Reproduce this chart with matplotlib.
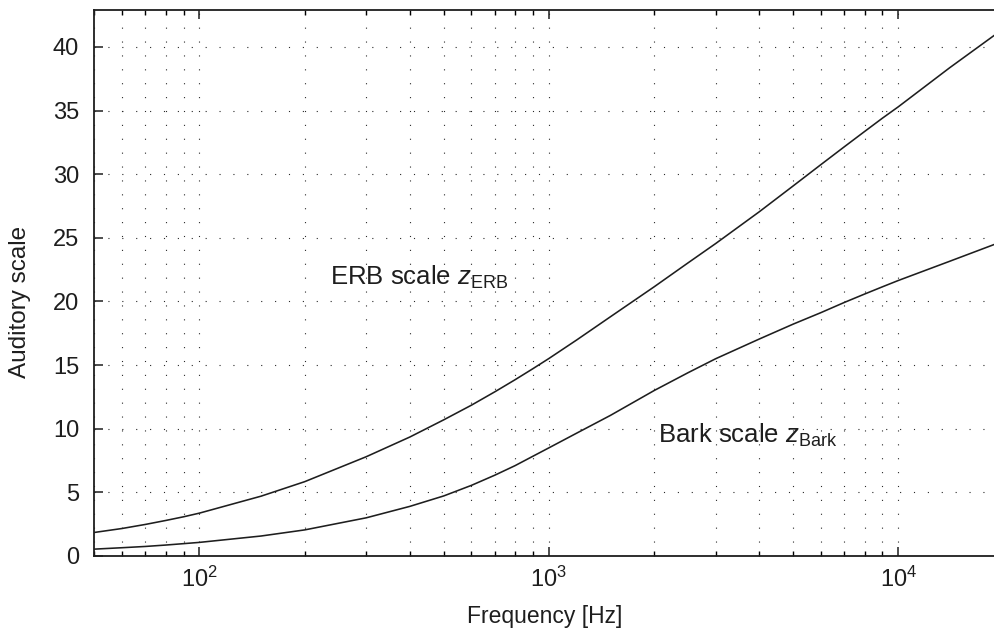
import matplotlib
matplotlib.use("Agg")
import matplotlib.pyplot as plt
from matplotlib.ticker import LogLocator, NullFormatter

plt.rcParams['font.family'] = ['Liberation Sans', 'DejaVu Sans']
plt.rcParams['mathtext.fontset'] = 'custom'
plt.rcParams['mathtext.rm'] = 'Liberation Sans'
plt.rcParams['mathtext.it'] = 'Liberation Sans:italic'
plt.rcParams['mathtext.bf'] = 'Liberation Sans:bold'

# Data
freq_hz = [50, 60, 70, 80, 90, 100, 150, 200, 300, 400, 500, 600, 700, 800, 900,
           1000, 1200, 1500, 2000, 2500, 3000, 4000, 5000, 6000, 7000, 8000, 9000,
           10000, 14000, 18900]
erb_scale = [1.85, 2.16, 2.48, 2.79, 3.08, 3.37, 4.7, 5.84, 7.8, 9.35, 10.7, 11.85,
             12.9, 13.85, 14.72, 15.52, 16.97, 18.8, 21.15, 23.03, 24.55, 27.05,
             29.08, 30.75, 32.15, 33.35, 34.4, 35.3, 38.35, 40.95]
bark_scale = [0.54, 0.65, 0.75, 0.86, 0.97, 1.07, 1.57, 2.05, 3.0, 3.9, 4.72, 5.55,
              6.35, 7.1, 7.84, 8.5, 9.65, 11.05, 13.0, 14.4, 15.5, 17.05, 18.22,
              19.12, 19.92, 20.58, 21.15, 21.65, 23.15, 24.5]
y_ticks = [0, 5, 10, 15, 20, 25, 30, 35, 40]
label_erb = r"ERB scale $z_{\mathrm{ERB}}$"
label_bark = r"Bark scale $z_{\mathrm{Bark}}$"

W, H = 995, 637
fig = plt.figure(figsize=(W / 100, H / 100), dpi=100)
ax = fig.add_axes([94.3 / W, (H - 556) / H, (995 - 94.3) / W, (556 - 10) / H])

ink = '#1e1e1e'
ax.plot(freq_hz, erb_scale, color=ink, lw=1.15)
ax.plot(freq_hz, bark_scale, color=ink, lw=1.15)

ax.set_xscale('log')
ax.set_xlim(50, 18900)
ax.set_ylim(0, 42.9)
ax.set_yticks(y_ticks)
ax.xaxis.set_major_locator(LogLocator(base=10, numticks=10))
ax.xaxis.set_minor_locator(LogLocator(base=10, subs=range(2, 10), numticks=20))
ax.xaxis.set_minor_formatter(NullFormatter())

grid_style = dict(color='#2a2a2a', linestyle=(0, (1, 11.5)), linewidth=0.8)
ax.grid(True, which='major', axis='both', **grid_style)
ax.grid(True, which='minor', axis='x', **grid_style)
ax.set_axisbelow(True)

for s in ['left', 'bottom', 'top']:
    ax.spines[s].set_linewidth(1.3)
    ax.spines[s].set_color(ink)
ax.spines['right'].set_visible(False)

ax.tick_params(which='major', direction='in', length=6.5, width=1.1, top=True,
               right=False, labelsize=17, colors=ink)
ax.tick_params(which='minor', direction='in', length=3.3, width=1.0, top=True,
               right=False)
ax.tick_params(axis='x', which='major', pad=8)
ax.tick_params(axis='y', which='major', pad=11)

ax.set_xlabel('Frequency [Hz]', fontsize=16.5, color=ink, labelpad=9)
ax.set_ylabel('Auditory scale', fontsize=17.5, color=ink)
ax.yaxis.set_label_coords(-0.070, 0.465)

ax.text(237, 21.9, label_erb, fontsize=18.5, color=ink, va='center', ha='left')
ax.text(2056, 9.5, label_bark, fontsize=18.5, color=ink, va='center', ha='left')

fig.savefig('out.png', dpi=100)
